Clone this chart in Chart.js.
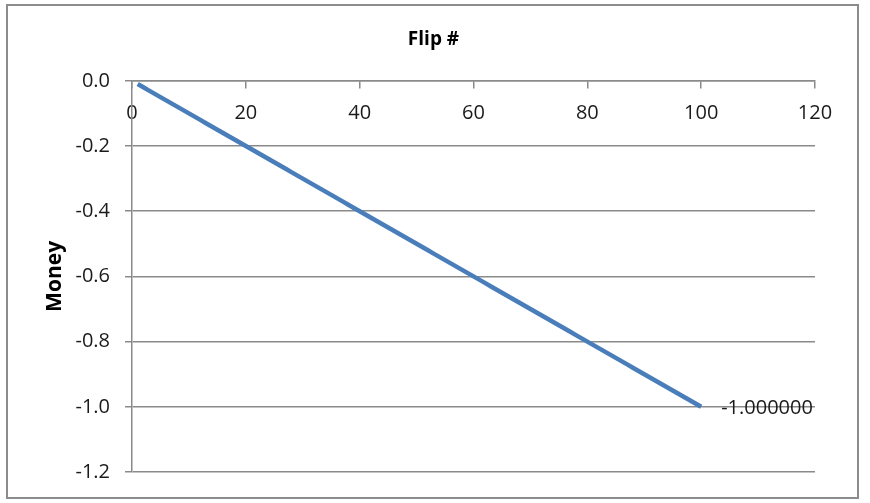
<!DOCTYPE html>
<html>
<head>
<meta charset="utf-8">
<script src="https://cdn.jsdelivr.net/npm/chart.js@4.4.1/dist/chart.umd.min.js"></script>
<style>
  html, body { margin: 0; padding: 0; background: #ffffff; }
  #wrap { position: relative; width: 870px; height: 503px; }
</style>
</head>
<body>
<div id="wrap"><canvas id="c" width="870" height="503"></canvas></div>
<script>
// ---- data ----
const flips = [1,2,3,4,5,6,7,8,9,10,11,12,13,14,15,16,17,18,19,20,
  21,22,23,24,25,26,27,28,29,30,31,32,33,34,35,36,37,38,39,40,
  41,42,43,44,45,46,47,48,49,50,51,52,53,54,55,56,57,58,59,60,
  61,62,63,64,65,66,67,68,69,70,71,72,73,74,75,76,77,78,79,80,
  81,82,83,84,85,86,87,88,89,90,91,92,93,94,95,96,97,98,99,100];
const money = [-0.01,-0.02,-0.03,-0.04,-0.05,-0.06,-0.07,-0.08,-0.09,-0.10,
  -0.11,-0.12,-0.13,-0.14,-0.15,-0.16,-0.17,-0.18,-0.19,-0.20,
  -0.21,-0.22,-0.23,-0.24,-0.25,-0.26,-0.27,-0.28,-0.29,-0.30,
  -0.31,-0.32,-0.33,-0.34,-0.35,-0.36,-0.37,-0.38,-0.39,-0.40,
  -0.41,-0.42,-0.43,-0.44,-0.45,-0.46,-0.47,-0.48,-0.49,-0.50,
  -0.51,-0.52,-0.53,-0.54,-0.55,-0.56,-0.57,-0.58,-0.59,-0.60,
  -0.61,-0.62,-0.63,-0.64,-0.65,-0.66,-0.67,-0.68,-0.69,-0.70,
  -0.71,-0.72,-0.73,-0.74,-0.75,-0.76,-0.77,-0.78,-0.79,-0.80,
  -0.81,-0.82,-0.83,-0.84,-0.85,-0.86,-0.87,-0.88,-0.89,-0.90,
  -0.91,-0.92,-0.93,-0.94,-0.95,-0.96,-0.97,-0.98,-0.99,-1.00];
const xTickValues = [0, 20, 40, 60, 80, 100, 120];
const yTickValues = [0.0, -0.2, -0.4, -0.6, -0.8, -1.0, -1.2];
const xTitle = 'Flip #';
const yTitle = 'Money';
const lastLabel = '-1.000000';

const FONT = "'Open Sans', sans-serif";
const GRID = '#8a8a8a';

const frame = {
  id: 'frame',
  beforeDraw(chart) {
    const ctx = chart.ctx;
    ctx.save();
    ctx.fillStyle = '#ffffff';
    ctx.fillRect(0, 0, chart.width, chart.height);
    ctx.strokeStyle = '#8c8c8c';
    ctx.lineWidth = 2;
    ctx.strokeRect(7, 5, 851, 493);
    ctx.restore();
  }
};

const endLabel = {
  id: 'endLabel',
  afterDatasetsDraw(chart) {
    const meta = chart.getDatasetMeta(0);
    const pt = meta.data[meta.data.length - 1];
    const ctx = chart.ctx;
    ctx.save();
    ctx.font = "20px " + FONT;
    ctx.fillStyle = '#1a1a1a';
    ctx.textAlign = 'left';
    ctx.textBaseline = 'middle';
    ctx.fillText(lastLabel, pt.x + 20, pt.y + 1);
    ctx.restore();
  }
};

new Chart(document.getElementById('c'), {
  type: 'line',
  data: {
    datasets: [{
      data: flips.map((f, i) => ({ x: f, y: money[i] })),
      borderColor: '#4A7EBB',
      borderWidth: 4.5,
      pointRadius: 0,
      tension: 0,
      fill: false
    }]
  },
  options: {
    responsive: false,
    animation: false,
    devicePixelRatio: 1,
    layout: { padding: { left: 52, right: 55, top: 0, bottom: 31 } },
    plugins: {
      legend: { display: false },
      tooltip: { enabled: false },
      title: {
        display: true,
        text: xTitle,
        color: '#000000',
        font: { family: FONT, size: 19, weight: 'bold', lineHeight: 1.2 },
        padding: { top: 28, bottom: 30 },
        align: 'center'
      }
    },
    scales: {
      x: {
        type: 'linear',
        position: { y: 0 },
        min: 0, max: 120,
        afterBuildTicks(scale) { scale.ticks = xTickValues.map(v => ({ value: v })); },
        ticks: {
          color: '#1a1a1a',
          font: { family: FONT, size: 20 },
          padding: 13,
          maxRotation: 0,
          callback: (v) => String(v)
        },
        grid: { display: true, drawOnChartArea: false, drawTicks: true, tickLength: 7, color: GRID, lineWidth: 1.5 },
        border: { display: true, color: GRID, width: 1.5 }
      },
      y: {
        type: 'linear',
        position: 'left',
        min: -1.2, max: 0,
        afterBuildTicks(scale) { scale.ticks = yTickValues.map(v => ({ value: v })); },
        afterFit(scale) { scale.width = 80; },
        ticks: {
          color: '#1a1a1a',
          font: { family: FONT, size: 20 },
          padding: 15,
          callback: (v) => Number(v).toFixed(1)
        },
        grid: { display: true, drawOnChartArea: true, drawTicks: true, tickLength: 7, color: GRID, lineWidth: 1.5 },
        border: { display: true, color: GRID, width: 1.5 },
        title: {
          display: true,
          text: yTitle,
          color: '#000000',
          font: { family: FONT, size: 21, weight: 'bold', lineHeight: 1.2 },
          padding: { top: -10, bottom: 0 }
        }
      }
    }
  },
  plugins: [frame, endLabel]
});
</script>
</body>
</html>
